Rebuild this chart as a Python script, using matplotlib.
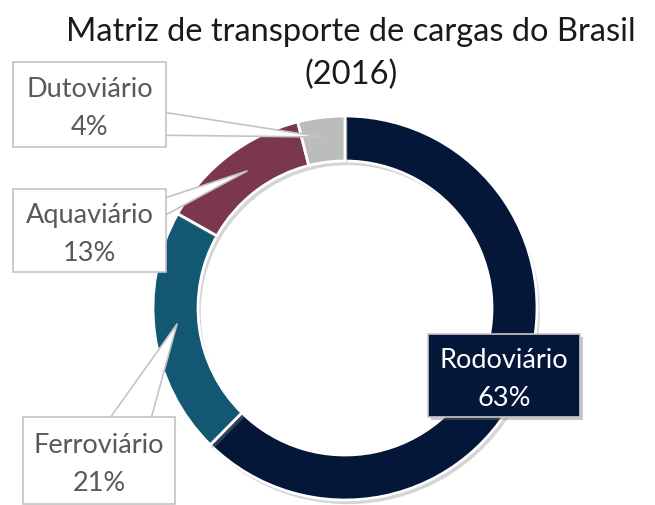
import matplotlib.pyplot as plt
import matplotlib.patheffects as pe
from matplotlib.patches import Rectangle

# data
modes = ['Rodoviário', 'Ferroviário', 'Aquaviário', 'Dutoviário']
shares = [63, 21, 13, 4]
colors = ['#041739', '#135873', '#7a374f', '#bbbdba']
title_lines = ['Matriz de transporte de cargas do Brasil', '(2016)']

plt.rcParams['font.family'] = ['Lato', 'DejaVu Sans']

fig = plt.figure(figsize=(6.55, 5.06), dpi=100)
ax = fig.add_axes([0, 0, 1, 1])

# y axis runs downward (pixel-like layout), so counterclock=True draws clockwise
wedges, _ = ax.pie(shares, colors=colors, startangle=-90, counterclock=True,
                   center=(345, 309), radius=192,
                   wedgeprops=dict(width=45, edgecolor='white', linewidth=2))
for w in wedges:
    w.set_path_effects([pe.SimplePatchShadow(offset=(2, -3), shadow_rgbFace='#888888', alpha=0.35),
                        pe.Normal()])
    w.set_zorder(1)

ax.set_xlim(0, 655)
ax.set_ylim(506, 0)
ax.set_aspect('auto')
ax.axis('off')

# title in two separate lines
for line, y in zip(title_lines, [41, 84]):
    ax.text(351, y, line, ha='center', va='baseline', fontsize=23.5, color='#1a1a1a')

# callout boxes: centre, size, pointer tail, pointer tip, pointer width (pt)
callouts = {
    'Dutoviário': dict(box=(89.5, 105.5, 153, 85), tail=(130, 122), tip=(322, 138), tw=20),
    'Aquaviário': dict(box=(89.5, 231.5, 153, 83), tail=(140, 218), tip=(247, 172), tw=15),
    'Ferroviário': dict(box=(99, 461.5, 152, 87), tail=(120, 445), tip=(177, 325), tw=34),
    'Rodoviário': dict(box=(504, 376.5, 152, 83), tail=None, tip=None, tw=0),
}

for name, share in zip(modes, shares):
    c = callouts[name]
    cx, cy, bw, bh = c['box']
    dark = name == 'Rodoviário'
    if c['tail'] is not None:
        ax.annotate('', xy=c['tip'], xytext=c['tail'],
                    arrowprops=dict(arrowstyle='wedge,tail_width=%g,shrink_factor=0.5' % (c['tw'] / 10),
                                    mutation_scale=10, fc='white', ec='#c4c4c4', lw=1.2,
                                    shrinkA=0, shrinkB=0),
                    zorder=3)
    rect = Rectangle((cx - bw / 2, cy - bh / 2), bw, bh,
                     facecolor='#041739' if dark else 'white',
                     edgecolor='#c8c8c8' if dark else '#c4c4c4', lw=1.2, zorder=4)
    if dark:
        rect.set_path_effects([pe.SimplePatchShadow(offset=(2, -2), shadow_rgbFace='#777777', alpha=0.4),
                               pe.Normal()])
    ax.add_patch(rect)
    ax.text(cx, cy + 3, '%s\n%d%%' % (name, share), ha='center', va='center',
            fontsize=19.5, color='white' if dark else '#595959', linespacing=1.65, zorder=5)

fig.savefig('out.png', dpi=100)
